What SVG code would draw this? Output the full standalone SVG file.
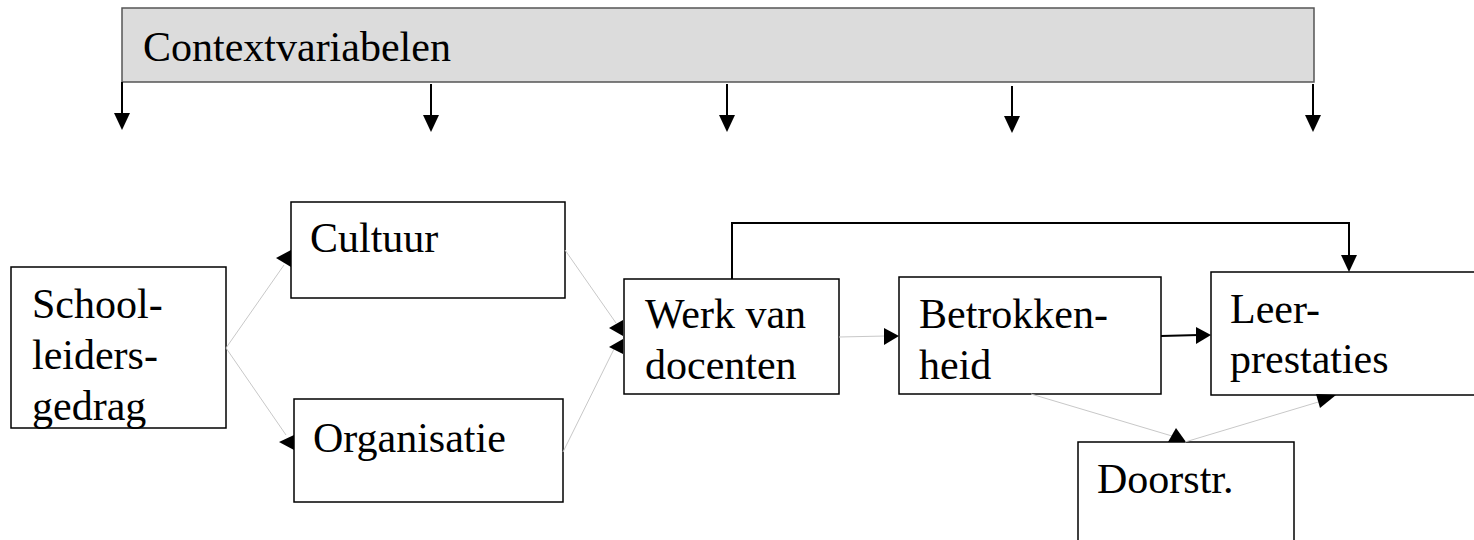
<svg xmlns="http://www.w3.org/2000/svg" width="1474" height="540" viewBox="0 0 1474 540">
<style>
.box{fill:#fff;stroke:#000;stroke-width:1.5}
.ctx{fill:#dcdcdc;stroke:#555;stroke-width:1.5}
.t{font-family:'Liberation Serif','Times New Roman','DejaVu Serif',Times,serif;font-size:42px;fill:#000}
.thin{stroke:#c8c8c8;stroke-width:1;fill:none}
.bold{stroke:#000;stroke-width:2;fill:none}
.head{fill:#000;stroke:none}
</style>
<rect width="1474" height="540" fill="#fff"/>
<g id="context">
<rect class="ctx" x="122" y="8" width="1192" height="74"/>
<text class="t" font-family="Liberation Serif" x="143" y="61">Contextvariabelen</text>
</g>
<g id="schoolleidersgedrag">
<rect class="box" x="11" y="267" width="215" height="161"/>
<text class="t" font-family="Liberation Serif" x="32" y="318">School-</text>
<text class="t" font-family="Liberation Serif" x="32" y="369">leiders-</text>
<text class="t" font-family="Liberation Serif" x="32" y="420">gedrag</text>
</g>
<g id="cultuur">
<rect class="box" x="291" y="202" width="274" height="96"/>
<text class="t" font-family="Liberation Serif" x="310" y="252">Cultuur</text>
</g>
<g id="organisatie">
<rect class="box" x="294" y="399" width="269" height="103"/>
<text class="t" font-family="Liberation Serif" x="313" y="452">Organisatie</text>
</g>
<g id="werk">
<rect class="box" x="624" y="279" width="215" height="115"/>
<text class="t" font-family="Liberation Serif" x="645" y="328">Werk van</text>
<text class="t" font-family="Liberation Serif" x="645" y="379">docenten</text>
</g>
<g id="betrokkenheid">
<rect class="box" x="899" y="277" width="262" height="117"/>
<text class="t" font-family="Liberation Serif" x="919" y="328">Betrokken-</text>
<text class="t" font-family="Liberation Serif" x="919" y="379">heid</text>
</g>
<g id="leerprestaties">
<rect class="box" x="1211" y="272" width="280" height="123"/>
<text class="t" font-family="Liberation Serif" x="1230" y="323">Leer-</text>
<text class="t" font-family="Liberation Serif" x="1230" y="373">prestaties</text>
</g>
<g id="doorstr">
<rect class="box" x="1078" y="442" width="216" height="110"/>
<text class="t" font-family="Liberation Serif" x="1097" y="493">Doorstr.</text>
</g>
<g id="connectors">
<line class="bold" x1="122" y1="82" x2="122" y2="116"/>
<polygon class="head" points="114,113 130,113 122,130"/>
<line class="bold" x1="431" y1="84" x2="431" y2="118"/>
<polygon class="head" points="423,115 439,115 431,132"/>
<line class="bold" x1="727" y1="84" x2="727" y2="118"/>
<polygon class="head" points="719,115 735,115 727,132"/>
<line class="bold" x1="1012" y1="86" x2="1012" y2="119"/>
<polygon class="head" points="1004,116 1020,116 1012,133"/>
<line class="bold" x1="1313" y1="84" x2="1313" y2="118"/>
<polygon class="head" points="1305,115 1321,115 1313,132"/>
<line class="thin" x1="226" y1="348" x2="284" y2="265"/>
<polygon class="head" points="276,258 291,250 291,267"/>
<line class="thin" x1="226" y1="348" x2="286" y2="435"/>
<polygon class="head" points="279,442 294,435 294,450"/>
<line class="thin" x1="565" y1="250" x2="616" y2="323"/>
<polygon class="head" points="609,328 623,320 623,336"/>
<line class="thin" x1="563" y1="452" x2="616" y2="345"/>
<polygon class="head" points="609,347 623,339 623,354"/>
<line class="thin" x1="839" y1="337" x2="886" y2="336"/>
<polygon class="head" points="884,328 884,345 899,336"/>
<line class="bold" x1="1161" y1="336" x2="1199" y2="335"/>
<polygon class="head" points="1196,327 1196,344 1211,335"/>
<polyline class="bold" points="732,279 732,223 1349,223 1349,258"/>
<polygon class="head" points="1341,255 1357,255 1349,272"/>
<line class="thin" x1="1031" y1="394" x2="1172" y2="436"/>
<polygon class="head" points="1168,442 1186,442 1176,428"/>
<line class="thin" x1="1185" y1="442" x2="1325" y2="400"/>
<polygon class="head" points="1320,408 1336,395 1316,394"/>
</g>
</svg>
